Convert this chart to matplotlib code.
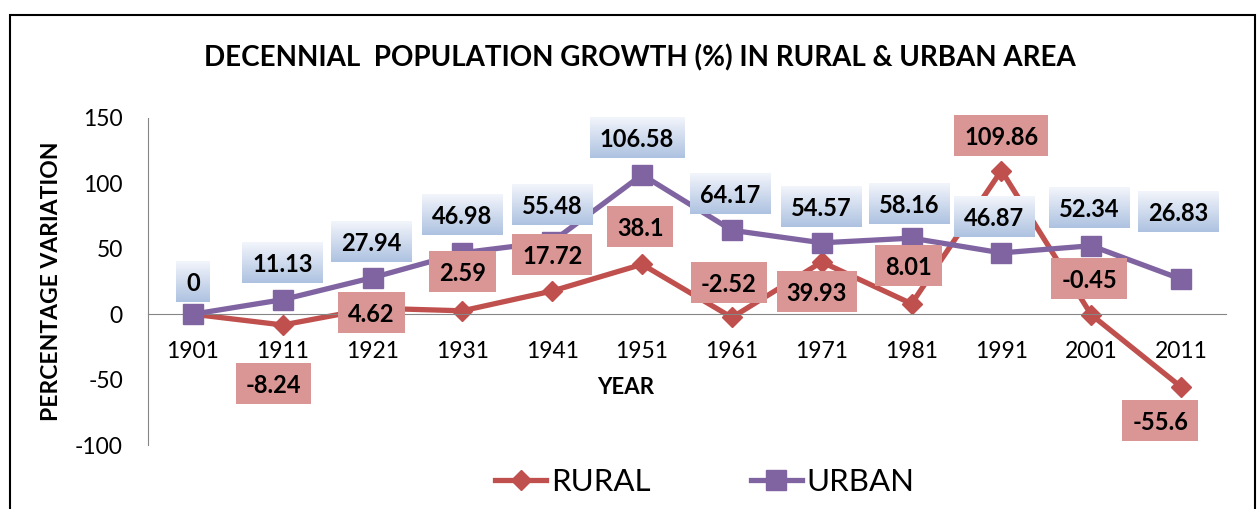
import numpy as np
from matplotlib import pyplot as plt
from matplotlib.patches import Rectangle

plt.rcParams['font.family'] = ['Lato', 'DejaVu Sans']
plt.rcParams['axes.unicode_minus'] = False

years = ['1901', '1911', '1921', '1931', '1941', '1951',
         '1961', '1971', '1981', '1991', '2001', '2011']
rural = [0, -8.24, 4.62, 2.59, 17.72, 38.1, -2.52, 39.93, 8.01, 109.86, -0.45, -55.6]
urban = [0, 11.13, 27.94, 46.98, 55.48, 106.58, 64.17, 54.57, 58.16, 46.87, 52.34, 26.83]

# label offsets from the point, in pixels (None = no label shown)
rural_lbl_dx = [None, -9, -1, 0, 0, -2, -3, -5, -3, 0, -2, -21]
rural_lbl_dy = [None, -59, -4, 39, 37, 38, 35, -30, 38, 35, 36, -34]
urban_lbl_dx = [0, 0, -1, 0, 0, -5, -2, 0, -2, -7, -2, -3]
urban_lbl_dy = [33, 37, 36, 38, 37, 37, 37, 36, 35, 36, 38, 68]

RED = '#C0504D'
PURPLE = '#8064A2'
AXIS = '#868686'
RED_BOX = '#D99694'

W, H = 1259, 509
fig = plt.figure(figsize=(W / 100, H / 100), dpi=100)
ax = fig.add_axes([148 / W, 1 - 445 / H, (1226 - 148) / W, (445 - 118) / H])

x = np.arange(len(years))
ax.plot(x, rural, color=RED, lw=3.8, marker='D', ms=10.5, zorder=2, label='RURAL')
ax.plot(x, urban, color=PURPLE, lw=3.8, marker='s', ms=14, zorder=3, label='URBAN')

ax.set_xlim(-0.5, len(years) - 0.5)
ax.set_ylim(-100, 150)
ax.set_yticks(range(-100, 151, 50))
ax.set_xticks(x, years)
for s in ['top', 'right']:
    ax.spines[s].set_visible(False)
ax.spines['left'].set_color(AXIS)
ax.spines['bottom'].set_color(AXIS)
ax.spines['bottom'].set_position(('data', 0))
ax.tick_params(length=0, labelsize=16.5)
ax.tick_params(axis='y', pad=18)
ax.tick_params(axis='x', pad=19)

# data labels
labels = []
for i in range(len(years)):
    t = ax.annotate(f'{urban[i]:g}', (i, urban[i]), xytext=(urban_lbl_dx[i], urban_lbl_dy[i]),
                    textcoords='offset pixels', ha='center', va='center_baseline',
                    fontsize=17, fontweight='bold', zorder=6, annotation_clip=False)
    labels.append((t, i, urban[i], urban_lbl_dx[i], urban_lbl_dy[i], 'u'))
    if rural_lbl_dx[i] is not None:
        t = ax.annotate(f'{rural[i]:g}', (i, rural[i]), xytext=(rural_lbl_dx[i], rural_lbl_dy[i]),
                        textcoords='offset pixels', ha='center', va='center_baseline',
                        fontsize=17, fontweight='bold', zorder=6, annotation_clip=False)
        labels.append((t, i, rural[i], rural_lbl_dx[i], rural_lbl_dy[i], 'r'))

fig.canvas.draw()
renderer = fig.canvas.get_renderer()
inv = ax.transData.inverted()
top_c = np.array([0.95, 0.96, 0.985])
bot_c = np.array([0.68, 0.76, 0.88])
grad = np.linspace(0, 1, 64)[:, None, None]
grad_img = top_c * (1 - grad) + bot_c * grad
grad_img = np.repeat(grad_img, 2, axis=1)
for t, i, v, dx, dy, kind in labels:
    bb = t.get_window_extent(renderer)
    cx, cy = ax.transData.transform((i, v)) + np.array([dx, dy])
    w, h = bb.width + 20, 41
    x0, y0 = inv.transform((cx - w / 2, cy - h / 2))
    x1, y1 = inv.transform((cx + w / 2, cy + h / 2))
    if kind == 'u':
        im = ax.imshow(grad_img, extent=(x0, x1, y0, y1), origin='upper', aspect='auto',
                       interpolation='bilinear', zorder=5)
        im.set_clip_on(False)
    else:
        ax.add_patch(Rectangle((x0, y0), x1 - x0, y1 - y0, fc=RED_BOX, ec='none',
                               zorder=5, clip_on=False))
ax.set_xlim(-0.5, len(years) - 0.5)
ax.set_ylim(-100, 150)

fig.text(640 / W, 1 - 58 / H, 'DECENNIAL  POPULATION GROWTH (%) IN RURAL & URBAN AREA',
         ha='center', va='center', fontsize=20, fontweight='bold')
fig.text(52 / W, 1 - 281 / H, 'PERCENTAGE VARIATION', rotation=90,
         ha='center', va='center', fontsize=16.5, fontweight='bold')
fig.text(626 / W, 1 - 387 / H, 'YEAR', ha='center', va='center', fontsize=16, fontweight='bold')

fig.legend(loc='center', bbox_to_anchor=(705 / W, 1 - 482 / H), ncol=2, frameon=False,
           fontsize=22.5, handlelength=1.63, handletextpad=0.16, columnspacing=3.2,
           borderpad=0, borderaxespad=0)

fig.patches.append(Rectangle((10 / W, -0.1), (1255 - 10) / W, 1.1 - 15 / H,
                             transform=fig.transFigure, fill=False, ec='black', lw=1.5))

fig.savefig('out.png', dpi=100)
